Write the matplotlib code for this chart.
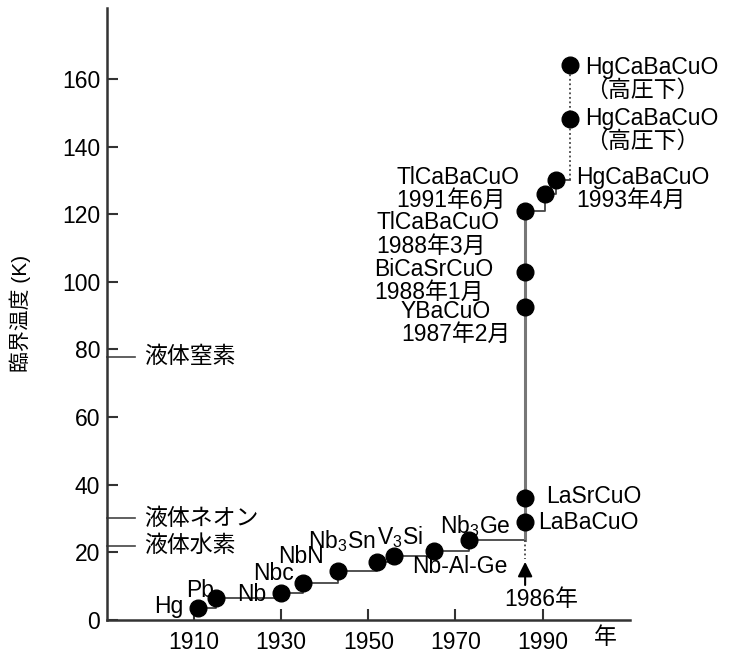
import matplotlib
matplotlib.use('Agg')
import matplotlib.pyplot as plt

plt.rcParams['font.family'] = ['Liberation Sans', 'Noto Sans CJK JP', 'DejaVu Sans']
plt.rcParams['mathtext.fontset'] = 'custom'
plt.rcParams['mathtext.rm'] = 'Liberation Sans'
plt.rcParams['mathtext.it'] = 'Liberation Sans'
plt.rcParams['mathtext.bf'] = 'Liberation Sans'

# classic superconductors (step line)
metal_years = [1911, 1915, 1930, 1935, 1943, 1952, 1956, 1965, 1973]
metal_tc = [3.5, 6.5, 8, 11, 14.5, 17, 19, 20.5, 23.5]

# cuprates discovered from 1986 on, plotted on the 1986 line
cuprate_year = 1986
cuprate_tc = [29, 36, 92.5, 103, 121]

# later steps
late_years = [1986, 1990.5, 1993]
late_tc = [121, 126, 130]

# high-pressure HgCaBaCuO
hp_year = 1996.4
hp_tc = [148, 164]

# liquid coolants
coolant_names = ['液体窒素', '液体ネオン', '液体水素']
coolant_tc = [77.8, 30, 22]

fig = plt.figure(figsize=(7.33, 6.56), dpi=100)
ax = fig.add_axes([0.146, 0.055, 0.713, 0.933])

lc = '#444444'
fs = 16.5

# step line for metals
sx = metal_years + [cuprate_year]
sy = metal_tc + [metal_tc[-1]]
ax.step(sx, sy, where='post', color=lc, lw=1.3, zorder=2)
# vertical rise at 1986
ax.plot([cuprate_year, cuprate_year], [metal_tc[-1], late_tc[0]], color='#777777', lw=2.2, zorder=2)
ax.step(late_years + [hp_year], late_tc + [late_tc[-1]], where='post', color=lc, lw=1.3, zorder=2)
ax.plot([hp_year, hp_year], [late_tc[-1], hp_tc[1]], color=lc, lw=1.3, ls=(0, (1, 1.5)), zorder=2)
# dotted below to arrow
ax.plot([cuprate_year, cuprate_year], [metal_tc[-1], 18], color=lc, lw=1.3, ls=(0, (1, 1.5)))
ax.annotate('', xy=(cuprate_year, 18), xytext=(cuprate_year, 9.5),
            arrowprops=dict(arrowstyle='-|>', color='black', lw=1.5, mutation_scale=22))

ms = 12
ax.plot(metal_years, metal_tc, 'o', color='black', ms=ms, zorder=3)
ax.plot([cuprate_year] * len(cuprate_tc), cuprate_tc, 'o', color='black', ms=ms, zorder=3)
ax.plot(late_years[1:], late_tc[1:], 'o', color='black', ms=ms, zorder=3)
ax.plot([hp_year] * 2, hp_tc, 'o', color='black', ms=ms, zorder=3)

# coolant lines
for name, t in zip(coolant_names, coolant_tc):
    ax.plot([1890, 1896.5], [t, t], color=lc, lw=1.2, clip_on=False)
    ax.text(1898.5, t, name, fontsize=fs, va='center', ha='left')

# labels
ax.text(1907.5, 4.1, 'Hg', fontsize=fs, ha='right', va='center')
ax.text(1911.4, 8.8, 'Pb', fontsize=fs, ha='center', va='center')
ax.text(1926.5, 7.6, 'Nb', fontsize=fs, ha='right', va='center')
ax.text(1928.3, 13.8, 'Nbc', fontsize=fs, ha='center', va='center')
ax.text(1934.6, 18.8, 'NbN', fontsize=fs, ha='center', va='center')
ax.text(1943.8, 23.2, 'Nb$_3$Sn', fontsize=fs, ha='center', va='center')
ax.text(1957.2, 24.5, 'V$_3$Si', fontsize=fs, ha='center', va='center')
ax.text(1971, 15.7, 'Nb-Al-Ge', fontsize=fs, ha='center', va='center')
ax.text(1974.5, 27.7, 'Nb$_3$Ge', fontsize=fs, ha='center', va='center')
ax.text(1989.1, 28.7, 'LaBaCuO', fontsize=fs, ha='left', va='center')
ax.text(1990.9, 36.4, 'LaSrCuO', fontsize=fs, ha='left', va='center')

ls = 1.0
ax.text(1957.5, 87.7, 'YBaCuO\n1987年2月', fontsize=fs, ha='left', va='center', linespacing=ls)
ax.text(1951.4, 100.3, 'BiCaSrCuO\n1988年1月', fontsize=fs, ha='left', va='center', linespacing=ls)
ax.text(1951.9, 114, 'TlCaBaCuO\n1988年3月', fontsize=fs, ha='left', va='center', linespacing=ls)
ax.text(1956.4, 127.4, 'TlCaBaCuO\n1991年6月', fontsize=fs, ha='left', va='center', linespacing=ls)
ax.text(1997.8, 127.4, 'HgCaBaCuO\n1993年4月', fontsize=fs, ha='left', va='center', linespacing=ls)
ax.text(1999.8, 145, 'HgCaBaCuO\n（高圧下）', fontsize=fs, ha='left', va='center', linespacing=ls)
ax.text(1999.8, 160, 'HgCaBaCuO\n（高圧下）', fontsize=fs, ha='left', va='center', linespacing=ls)
ax.text(1981.1, 5.9, '1986年', fontsize=fs, ha='left', va='center')

ax.set_xlim(1890, 2010)
ax.set_ylim(0, 181)
ax.set_xticks([1910, 1930, 1950, 1970, 1990])
ax.set_yticks(range(0, 161, 20))
ax.spines['top'].set_visible(False)
ax.spines['right'].set_visible(False)
for s in ['left', 'bottom']:
    ax.spines[s].set_linewidth(1.8)
    ax.spines[s].set_color('#333333')
ax.tick_params(direction='in', length=8, width=1.5, labelsize=fs, colors='#333333', labelcolor='black')
ax.tick_params(axis='x', pad=8)
ax.tick_params(axis='y', pad=5)
ax.set_ylabel('臨界温度 (K)', fontsize=15, labelpad=22)
fig.text(605 / 733, 1 - 637 / 656, '年', fontsize=fs, ha='center', va='center')

fig.savefig('out.png', dpi=100)
